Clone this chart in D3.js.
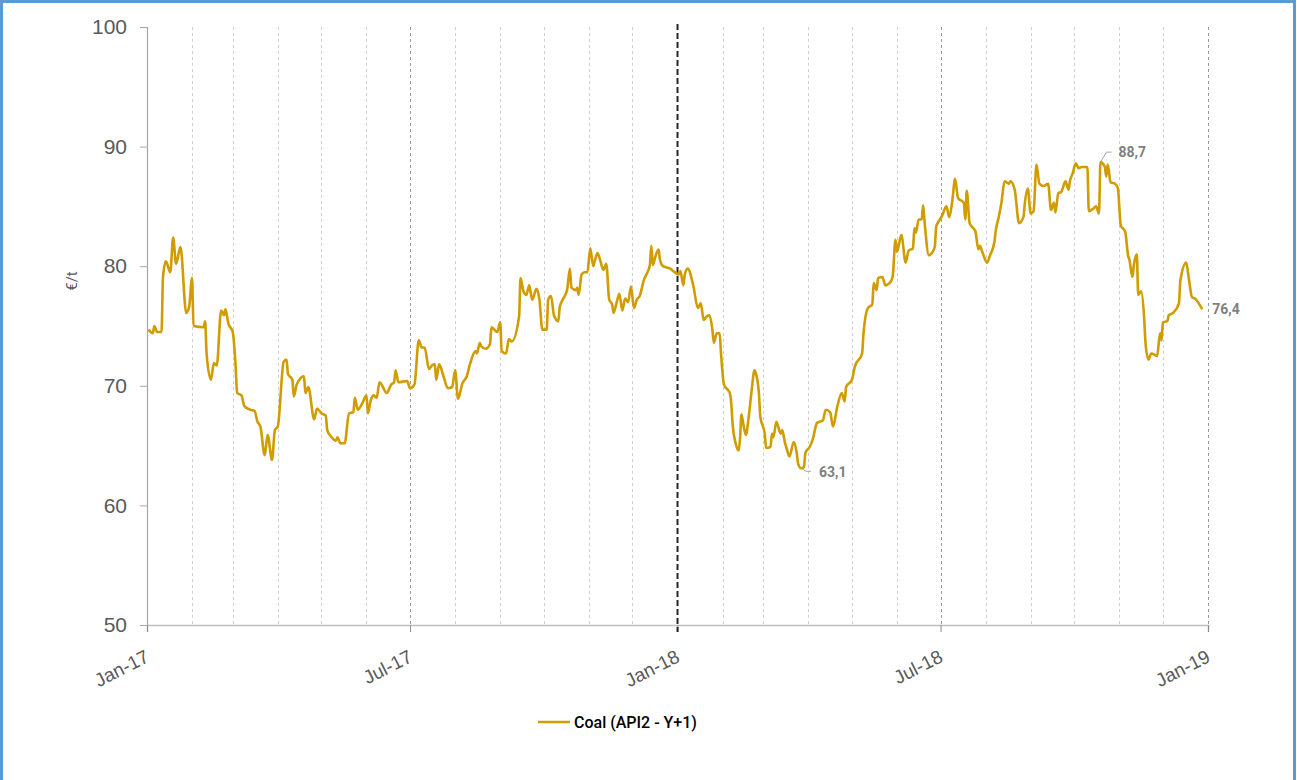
<!DOCTYPE html>
<html>
<head>
<meta charset="utf-8">
<script src="https://cdn.jsdelivr.net/npm/d3@7"></script>
<style>
  body { margin: 0; background: #fff; }
  svg { display: block; font-family: Roboto, "Liberation Sans", Arial, sans-serif; }
</style>
</head>
<body>
<div id="chart"></div>
<script>
// Coal (API2 - Y+1), EUR/t
const dates2017 = [
  "2017-01-02","2017-01-05","2017-01-06","2017-01-08","2017-01-11","2017-01-12","2017-01-14","2017-01-17","2017-01-19","2017-01-21",
  "2017-01-24","2017-01-28","2017-01-30","2017-02-01","2017-02-02","2017-02-09","2017-02-10","2017-02-11","2017-02-14","2017-02-16",
  "2017-02-18","2017-02-21","2017-02-23","2017-02-24","2017-02-26","2017-03-01","2017-03-03","2017-03-04","2017-03-07","2017-03-09",
  "2017-03-13","2017-03-16","2017-03-18","2017-03-20","2017-03-23","2017-03-25","2017-03-28","2017-03-30","2017-04-01","2017-04-05",
  "2017-04-07","2017-04-08","2017-04-11","2017-04-12","2017-04-14","2017-04-19","2017-04-20","2017-04-22","2017-04-26","2017-04-28",
  "2017-05-01","2017-05-04","2017-05-05","2017-05-08","2017-05-11","2017-05-12","2017-05-14","2017-05-17","2017-05-20","2017-05-23",
  "2017-05-24","2017-05-26","2017-05-29","2017-06-01","2017-06-02","2017-06-04","2017-06-06","2017-06-08","2017-06-10","2017-06-15",
  "2017-06-18","2017-06-20","2017-06-21","2017-06-23","2017-06-29","2017-07-01","2017-07-04","2017-07-07","2017-07-09","2017-07-11",
  "2017-07-14","2017-07-16","2017-07-18","2017-07-19","2017-07-21","2017-07-24","2017-07-27","2017-07-30","2017-08-01","2017-08-03",
  "2017-08-06","2017-08-09","2017-08-11","2017-08-15","2017-08-16","2017-08-18","2017-08-19","2017-08-22","2017-08-25","2017-08-26",
  "2017-08-30","2017-09-01","2017-09-02","2017-09-05","2017-09-07","2017-09-09","2017-09-14","2017-09-15","2017-09-17","2017-09-19",
  "2017-09-21","2017-09-23","2017-09-26","2017-09-28","2017-09-30","2017-10-03","2017-10-04","2017-10-06","2017-10-08","2017-10-11",
  "2017-10-12","2017-10-14","2017-10-17","2017-10-19","2017-10-20","2017-10-23","2017-10-24","2017-10-25","2017-10-27","2017-10-29",
  "2017-10-31","2017-11-02","2017-11-04","2017-11-05","2017-11-07","2017-11-09","2017-11-11","2017-11-13","2017-11-15","2017-11-17",
  "2017-11-18","2017-11-20","2017-11-22","2017-11-24","2017-11-26","2017-11-28","2017-11-30","2017-12-02","2017-12-04","2017-12-06",
  "2017-12-09","2017-12-11","2017-12-13","2017-12-14","2017-12-15","2017-12-17","2017-12-19","2017-12-20","2017-12-22","2017-12-27",
  "2017-12-30"
];
const values2017 = [
  74.7,74.4,75.0,74.5,74.5,79.1,80.4,79.5,82.4,80.2,
  81.6,76.1,76.6,79.0,75.0,74.9,75.4,72.7,70.5,71.9,
  71.7,76.3,75.9,76.4,75.2,74.5,71.6,69.4,69.2,68.3,
  68.0,67.9,67.0,66.6,64.2,65.9,63.8,66.3,66.6,72.0,
  72.2,71.0,70.5,69.1,70.1,70.8,69.4,69.9,67.2,68.1,
  67.7,67.5,66.3,65.7,65.4,65.7,65.2,65.2,67.7,67.8,
  69.0,68.0,68.5,69.2,67.7,68.8,69.2,69.0,70.3,69.4,
  70.1,70.3,71.3,70.3,70.4,69.8,70.1,73.8,73.2,73.2,
  71.4,71.7,71.8,70.5,71.8,70.8,69.8,69.9,71.3,68.9,
  70.2,70.8,71.7,72.9,72.7,73.6,73.3,73.1,73.5,74.9,
  74.5,75.3,72.9,72.7,73.9,73.7,75.8,79.0,77.9,77.6,
  78.4,77.2,78.1,77.2,74.7,74.7,77.2,77.5,75.9,75.4,
  76.6,77.2,78.0,79.8,78.2,78.0,78.2,77.6,79.3,79.5,
  79.5,81.5,80.0,80.4,81.1,80.4,79.7,80.2,77.2,76.8,
  76.1,76.9,77.7,76.3,77.3,77.0,78.3,76.5,77.2,77.5,
  78.9,79.4,80.1,81.7,80.1,80.9,81.4,80.5,80.0,79.8,
  79.5
];
const dates2018 = [
  "2018-01-02","2018-01-03","2018-01-05","2018-01-06","2018-01-08","2018-01-12","2018-01-15","2018-01-17","2018-01-19","2018-01-21",
  "2018-01-23","2018-01-25","2018-01-26","2018-01-28","2018-01-30","2018-01-31","2018-02-02","2018-02-05","2018-02-06","2018-02-07",
  "2018-02-08","2018-02-10","2018-02-12","2018-02-13","2018-02-14","2018-02-15","2018-02-17","2018-02-19","2018-02-21","2018-02-23",
  "2018-02-24","2018-02-26","2018-02-27","2018-03-02","2018-03-03","2018-03-06","2018-03-07","2018-03-08","2018-03-10","2018-03-11",
  "2018-03-13","2018-03-14","2018-03-16","2018-03-17","2018-03-19","2018-03-22","2018-03-24","2018-03-25","2018-03-27","2018-03-29",
  "2018-03-30","2018-04-02","2018-04-04","2018-04-07","2018-04-11","2018-04-13","2018-04-16","2018-04-18","2018-04-21","2018-04-24",
  "2018-04-26","2018-04-27","2018-05-01","2018-05-03","2018-05-08","2018-05-09","2018-05-12","2018-05-15","2018-05-16","2018-05-18",
  "2018-05-19","2018-05-22","2018-05-24","2018-05-27","2018-05-29","2018-05-31","2018-06-01","2018-06-04","2018-06-07","2018-06-09",
  "2018-06-12","2018-06-13","2018-06-14","2018-06-16","2018-06-18","2018-06-19","2018-06-20","2018-06-23","2018-06-25","2018-06-27",
  "2018-06-28","2018-06-29","2018-07-02","2018-07-05","2018-07-07","2018-07-09","2018-07-11","2018-07-13","2018-07-17","2018-07-18",
  "2018-07-19","2018-07-21","2018-07-24","2018-07-25","2018-07-27","2018-07-28","2018-07-30","2018-08-02","2018-08-04","2018-08-07",
  "2018-08-08","2018-08-10","2018-08-12","2018-08-14","2018-08-17","2018-08-18","2018-08-21","2018-08-24","2018-08-27","2018-08-28",
  "2018-08-30","2018-09-01","2018-09-03","2018-09-05","2018-09-07","2018-09-10","2018-09-13","2018-09-15","2018-09-17","2018-09-18",
  "2018-09-20","2018-09-22","2018-09-25","2018-09-27","2018-09-28","2018-09-30","2018-10-02","2018-10-04","2018-10-06","2018-10-10",
  "2018-10-11","2018-10-14","2018-10-16","2018-10-18","2018-10-19","2018-10-22","2018-10-23","2018-10-24","2018-10-26","2018-10-29",
  "2018-10-31","2018-11-02","2018-11-05","2018-11-07","2018-11-08","2018-11-10","2018-11-11","2018-11-13","2018-11-14","2018-11-16",
  "2018-11-18","2018-11-19","2018-11-21","2018-11-23","2018-11-27","2018-11-29","2018-11-30","2018-12-01","2018-12-04","2018-12-05",
  "2018-12-08","2018-12-12","2018-12-13","2018-12-17","2018-12-19","2018-12-21","2018-12-23","2018-12-28"
];
const values2018 = [
  79.3,79.6,78.4,79.3,79.8,78.3,76.5,76.9,75.5,75.8,
  75.9,74.7,73.6,74.4,74.4,72.6,70.1,69.6,69.4,68.5,
  66.7,65.2,64.6,65.5,67.6,67.0,65.9,67.4,69.6,71.3,
  71.0,69.4,67.4,66.0,64.8,64.9,66.0,65.7,67.0,66.7,
  66.0,66.3,65.2,64.8,64.1,65.3,64.4,63.5,63.1,63.2,
  64.4,64.9,65.5,66.9,67.1,68.0,67.8,66.6,68.3,69.4,
  68.7,69.9,70.5,71.6,72.7,74.4,76.5,76.8,78.6,78.0,
  79.0,79.1,78.4,78.6,79.1,82.2,81.2,82.6,80.3,81.3,
  81.5,83.2,82.8,83.9,83.9,85.1,83.7,80.9,81.1,81.6,
  83.3,83.6,84.2,85.0,84.1,85.4,87.3,85.7,85.3,83.9,
  86.3,83.6,83.1,82.9,81.4,81.7,81.1,80.3,80.9,82.0,
  83.0,84.1,85.4,87.1,86.9,87.1,86.4,83.6,84.1,85.3,
  86.5,84.4,84.6,88.5,86.9,86.7,86.9,84.7,85.3,84.5,
  86.1,86.2,87.1,86.4,87.1,87.8,88.6,88.2,88.3,88.3,
  84.6,84.8,85.0,84.4,88.7,88.3,87.5,88.5,87.0,86.9,
  86.5,83.4,82.9,80.9,80.5,79.1,80.1,81.0,77.6,77.9,
  75.8,73.6,72.2,72.7,72.5,74.4,73.8,75.3,75.4,75.9,
  76.1,76.9,78.8,80.3,78.8,77.4,77.3,76.4
];

const seriesName = "Coal (API2 - Y+1)";
const yUnit = "€/t";
const xDomain = ["2017-01-01", "2019-01-01"];
const yDomain = [50, 100];
const yTicks = [50, 60, 70, 80, 90, 100];
const xLabelDates = ["2017-01-01", "2017-07-01", "2018-01-01", "2018-07-01", "2019-01-01"];
const markerDate = "2018-01-01";

const width = 1297, height = 780;
const margin = { top: 27, right: 89, bottom: 155, left: 147 };
const lineColor = "#D09C00";
const textColor = "#595959";

const parse = d3.timeParse("%Y-%m-%d");
const allDates = dates2017.concat(dates2018);
const allValues = values2017.concat(values2018);
const data = allDates.map((d, i) => ({ date: parse(d), value: allValues[i] }));

const svg = d3.select("#chart").append("svg")
    .attr("width", width)
    .attr("height", height);

// outer frame
svg.append("rect")
    .attr("x", 1.5).attr("y", 1.5)
    .attr("width", 1293).attr("height", 820)
    .attr("fill", "none")
    .attr("stroke", "#5B9BD5")
    .attr("stroke-width", 3);

const x = d3.scaleTime()
    .domain(xDomain.map(parse))
    .range([margin.left, width - margin.right]);

const y = d3.scaleLinear()
    .domain(yDomain)
    .range([height - margin.bottom, margin.top]);

const decimalComma = d3.formatLocale({ decimal: ",", thousands: ".", grouping: [3], currency: ["", "€"] });
const fmt = decimalComma.format(".1f");

// monthly gridlines
const months = d3.timeMonth.range(x.domain()[0], d3.timeDay.offset(x.domain()[1], 1));
const isMajor = d => d.getMonth() % 6 === 0;
svg.append("g")
    .selectAll("line")
    .data(months.filter(d => +d !== +x.domain()[0] && +d !== +parse(markerDate)))
    .enter().append("line")
    .attr("x1", d => Math.round(x(d)) + 0.5)
    .attr("x2", d => Math.round(x(d)) + 0.5)
    .attr("y1", y(yDomain[1]))
    .attr("y2", y(yDomain[0]))
    .attr("stroke", d => isMajor(d) ? "#9a9a9a" : "#cfcfcf")
    .attr("stroke-width", 1)
    .attr("stroke-dasharray", "3,3");

// x axis
const xAxis = svg.append("g")
    .attr("transform", `translate(0,${y(yDomain[0])})`)
    .call(d3.axisBottom(x)
        .tickValues(xLabelDates.map(parse))
        .tickSize(7)
        .tickFormat(d3.timeFormat("%b-%y")));
xAxis.select(".domain").attr("stroke", "#bfbfbf").attr("stroke-width", 1.5);
xAxis.selectAll(".tick line").attr("stroke", "#8c8c8c");
xAxis.selectAll(".tick text")
    .attr("fill", textColor)
    .attr("font-size", 19)
    .attr("font-weight", 500)
    .attr("text-anchor", "end")
    .attr("dy", 0)
    .attr("y", 0)
    .attr("transform", "translate(3,36) rotate(-27)");

// y axis
const yAxis = svg.append("g")
    .attr("transform", `translate(${margin.left},0)`)
    .call(d3.axisLeft(y).tickValues(yTicks).tickSize(7).tickPadding(13));
yAxis.select(".domain").attr("stroke", "#a6a6a6").attr("stroke-width", 1.2);
yAxis.selectAll(".tick line").attr("stroke", "#a6a6a6");
yAxis.selectAll(".tick text")
    .attr("fill", textColor)
    .attr("font-size", 21)
    .attr("font-weight", 500);

svg.append("text")
    .attr("transform", `translate(77,${(y(yDomain[0]) + y(yDomain[1])) / 2 - 45}) rotate(-90)`)
    .attr("text-anchor", "middle")
    .attr("fill", textColor)
    .attr("font-size", 15)
    .text(yUnit);

// year marker
svg.append("line")
    .attr("x1", x(parse(markerDate)))
    .attr("x2", x(parse(markerDate)))
    .attr("y1", y(yDomain[1]) - 3)
    .attr("y2", y(yDomain[0]) + 7)
    .attr("stroke", "#262626")
    .attr("stroke-width", 2)
    .attr("stroke-dasharray", "6,3");

// series line
const line = d3.line()
    .x(d => x(d.date))
    .y(d => y(d.value))
    .curve(d3.curveMonotoneX);

svg.append("path")
    .datum(data)
    .attr("fill", "none")
    .attr("stroke", lineColor)
    .attr("stroke-width", 2.6)
    .attr("stroke-linejoin", "round")
    .attr("d", line);

// labels: max, min, last
const labelGroup = svg.append("g")
    .attr("fill", "#7f7f7f")
    .attr("font-size", 14)
    .attr("font-weight", "bold");

const maxPt = data[d3.maxIndex(data, d => d.value)];
const minPt = data[d3.minIndex(data, d => d.value)];
const lastPt = data[data.length - 1];

const mx = x(maxPt.date), my = y(maxPt.value);
svg.append("path")
    .attr("d", `M${mx},${my} L${mx + 6},${my - 10} L${mx + 11},${my - 10}`)
    .attr("fill", "none").attr("stroke", "#a6a6a6").attr("stroke-width", 1);
labelGroup.append("text")
    .attr("x", mx + 18).attr("y", my - 10)
    .attr("dy", "0.35em")
    .text(fmt(maxPt.value));

const nx = x(minPt.date), ny = y(minPt.value);
svg.append("path")
    .attr("d", `M${nx},${ny} L${nx + 5},${ny + 3} L${nx + 10},${ny + 3}`)
    .attr("fill", "none").attr("stroke", "#a6a6a6").attr("stroke-width", 1);
labelGroup.append("text")
    .attr("x", nx + 18).attr("y", ny + 4)
    .attr("dy", "0.35em")
    .text(fmt(minPt.value));

labelGroup.append("text")
    .attr("x", x(lastPt.date) + 10).attr("y", y(lastPt.value))
    .attr("dy", "0.35em")
    .text(fmt(lastPt.value));

// legend
const legend = svg.append("g").attr("transform", "translate(538,722)");
legend.append("line")
    .attr("x1", 0).attr("x2", 32)
    .attr("stroke", lineColor).attr("stroke-width", 2.5);
legend.append("text")
    .attr("x", 36).attr("dy", "0.35em")
    .attr("font-size", 16)
    .attr("font-weight", 500)
    .attr("fill", "#000")
    .text(seriesName);
</script>
</body>
</html>
